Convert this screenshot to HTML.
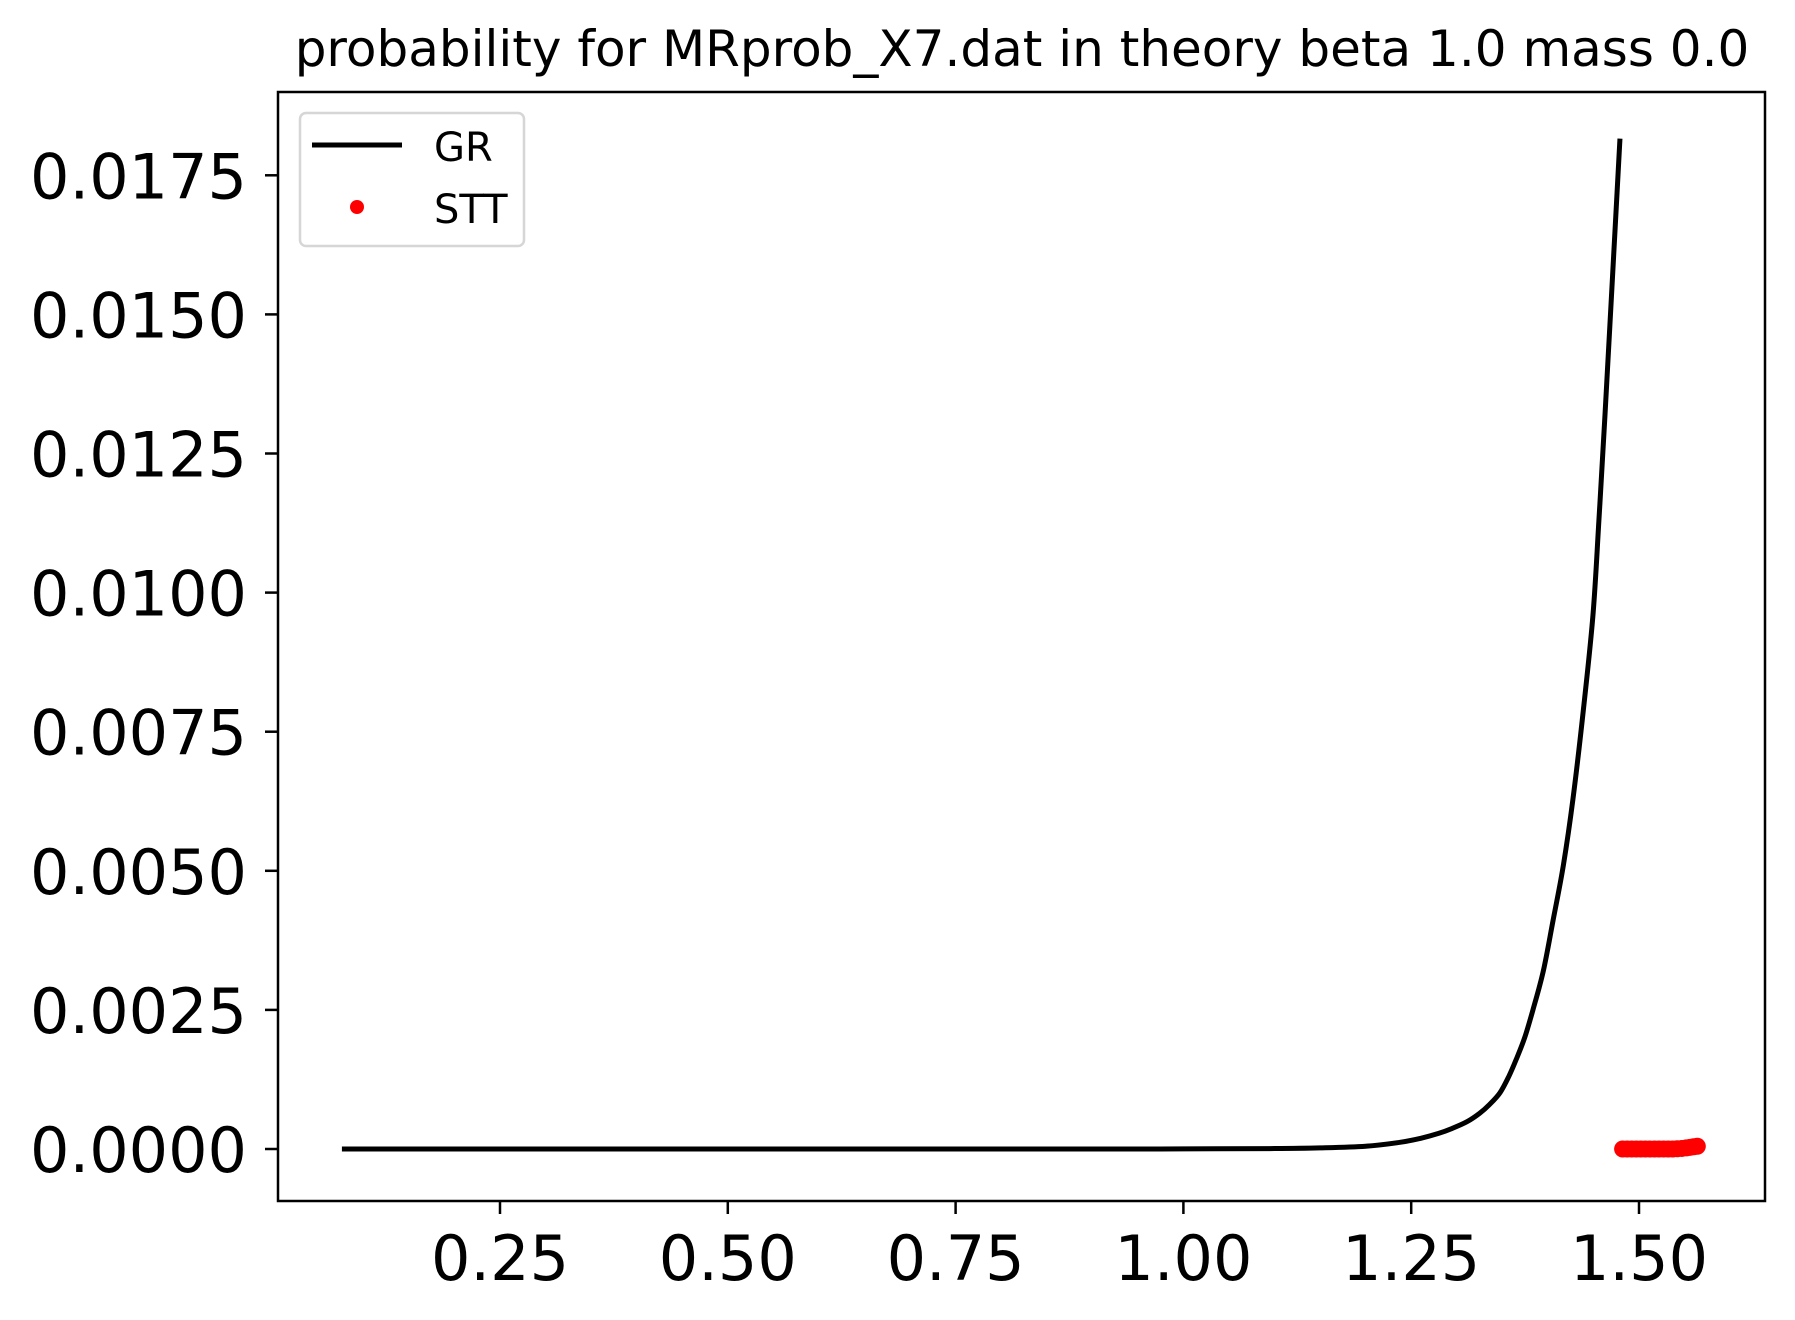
<!DOCTYPE html>
<html><head><meta charset="utf-8"><style>
html,body{margin:0;padding:0;background:#fff;}
svg{display:block;font-family:"DejaVu Sans","Liberation Sans",sans-serif;}
</style></head><body>
<svg id="chart" width="1795" height="1320" viewBox="0 0 1795 1320">
<rect x="0" y="0" width="1795" height="1320" fill="#fff"/>
<text x="1022" y="66" font-size="50" text-anchor="middle">probability for MRprob_X7.dat in theory beta 1.0 mass 0.0</text>
<g id="plot"></g>
<rect x="278" y="92" width="1487" height="1109" fill="none" stroke="#000" stroke-width="2.5"/>
<g>
<rect x="300" y="113" width="224" height="133" rx="6" fill="#fff" fill-opacity="0.8" stroke="#d6d6d6" stroke-width="2.5"/>
<line x1="312" y1="145" x2="402" y2="145" stroke="#000" stroke-width="5"/>
<text x="434" y="161" font-size="40">GR</text>
<circle cx="357" cy="207" r="7" fill="#f00"/>
<text x="434" y="223" font-size="40">STT</text>
</g>
</svg>
<script>
const xTicks = [0.25, 0.50, 0.75, 1.00, 1.25, 1.50];
const xTickLabels = ["0.25", "0.50", "0.75", "1.00", "1.25", "1.50"];
const yTicks = [0, 0.0025, 0.005, 0.0075, 0.01, 0.0125, 0.015, 0.0175];
const yTickLabels = ["0.0000", "0.0025", "0.0050", "0.0075", "0.0100", "0.0125", "0.0150", "0.0175"];
const grX = [0.0765, 0.3, 0.6, 0.9, 1.0, 1.1, 1.15, 1.2, 1.2377, 1.26, 1.28, 1.2950, 1.3112, 1.325, 1.3360, 1.3474, 1.357, 1.365, 1.3745, 1.3836, 1.395, 1.4056, 1.4170, 1.4276, 1.4390, 1.4495, 1.4560, 1.4627, 1.4710, 1.4791];
const grY = [0, 0, 0, 0, 0.000002, 0.000008, 0.00002, 0.00005, 0.00012, 0.00019, 0.00028, 0.00037, 0.00049, 0.00064, 0.0008, 0.00101, 0.0013, 0.0016, 0.002, 0.0025, 0.0032, 0.0041, 0.0051, 0.0063, 0.0079, 0.0096, 0.0113, 0.0132, 0.0157, 0.01816];
const sttX = [1.482, 1.487, 1.492, 1.497, 1.502, 1.507, 1.512, 1.517, 1.522, 1.527, 1.532, 1.537, 1.542, 1.547, 1.552, 1.556, 1.560, 1.564];
const sttY = [0, 0, 0, 0, 0, 0, 0, 0, 0, 0, 0, 0, 0.000005, 0.00001, 0.00002, 0.00003, 0.00004, 0.00005];

const NS = "http://www.w3.org/2000/svg";
function xs(v){ return 500 + (v - 0.25) / 0.25 * 227.8; }
function ys(v){ return 1149 - v / 0.0025 * 139.1; }
const svg = document.getElementById('chart');
const plot = document.getElementById('plot');

const P = grX.map((x, i) => [xs(x), ys(grY[i])]);
let d = "M" + P[0][0].toFixed(2) + "," + P[0][1].toFixed(2);
for (let i = 0; i < P.length - 1; i++) {
  const p0 = P[Math.max(0, i - 1)], p1 = P[i], p2 = P[i + 1], p3 = P[Math.min(P.length - 1, i + 2)];
  const c1 = [p1[0] + (p2[0] - p0[0]) / 6, p1[1] + (p2[1] - p0[1]) / 6];
  const c2 = [p2[0] - (p3[0] - p1[0]) / 6, p2[1] - (p3[1] - p1[1]) / 6];
  d += "C" + c1[0].toFixed(2) + "," + c1[1].toFixed(2) + " " + c2[0].toFixed(2) + "," + c2[1].toFixed(2) + " " + p2[0].toFixed(2) + "," + p2[1].toFixed(2);
}
const path = document.createElementNS(NS, 'path');
path.setAttribute('d', d);
path.setAttribute('fill', 'none');
path.setAttribute('stroke', '#000');
path.setAttribute('stroke-width', '5');
path.setAttribute('stroke-linejoin', 'round');


plot.appendChild(path);

for (let i = 0; i < sttX.length; i++) {
  const c = document.createElementNS(NS, 'circle');
  c.setAttribute('cx', xs(sttX[i]));
  c.setAttribute('cy', ys(sttY[i]));
  c.setAttribute('r', '8.5');
  c.setAttribute('fill', '#f00');
  
  
  plot.appendChild(c);
}

for (let i = 0; i < xTicks.length; i++) {
  const x = xs(xTicks[i]);
  const t = document.createElementNS(NS, 'line');
  t.setAttribute('x1', x); t.setAttribute('x2', x);
  t.setAttribute('y1', 1201); t.setAttribute('y2', 1214);
  t.setAttribute('stroke', '#000'); t.setAttribute('stroke-width', '2.5');
  
  
  svg.appendChild(t);
  const l = document.createElementNS(NS, 'text');
  l.setAttribute('x', x); l.setAttribute('y', 1280);
  l.setAttribute('font-size', '62'); l.setAttribute('text-anchor', 'middle');
  l.textContent = xTickLabels[i];
  
  
  svg.appendChild(l);
}
for (let i = 0; i < yTicks.length; i++) {
  const y = ys(yTicks[i]);
  const t = document.createElementNS(NS, 'line');
  t.setAttribute('x1', 265); t.setAttribute('x2', 278);
  t.setAttribute('y1', y); t.setAttribute('y2', y);
  t.setAttribute('stroke', '#000'); t.setAttribute('stroke-width', '2.5');
  
  
  svg.appendChild(t);
  const l = document.createElementNS(NS, 'text');
  l.setAttribute('x', 247); l.setAttribute('y', y + 23);
  l.setAttribute('font-size', '62'); l.setAttribute('text-anchor', 'end');
  l.textContent = yTickLabels[i];
  
  
  svg.appendChild(l);
}
</script>
</body></html>
